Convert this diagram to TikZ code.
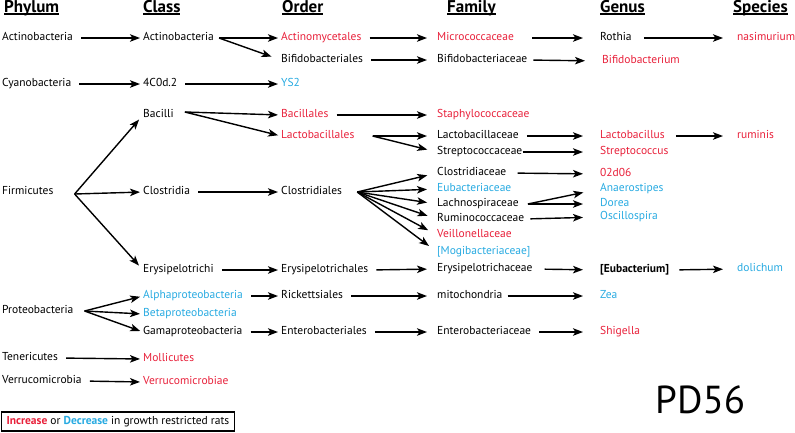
\documentclass[tikz,border=0pt]{standalone}
\usepackage{fontspec}
\setmainfont{PT Sans}
\usetikzlibrary{arrows.meta}
\definecolor{incr}{RGB}{232,32,58}
\definecolor{decr}{RGB}{39,170,225}
\newcommand\ulhead[1]{\setbox0\hbox{#1}\rlap{\rule[-2.6pt]{\wd0}{1.4pt}}\box0}

\begin{document}
\begin{tikzpicture}[x=1pt,y=-1pt,
    every node/.style={anchor=west,inner sep=0pt,text height=8pt,text depth=2.5pt,
      font=\fontsize{11.5}{13}\selectfont},
    head/.style={anchor=base west,text height=,text depth=,font=\fontsize{17}{19}\bfseries\selectfont},
    up/.style={text=incr},
    down/.style={text=decr},
    arr/.style={-{Stealth[length=10pt,width=7.5pt,inset=2.5pt]},line width=1.4pt,shorten <=8pt,shorten >=3pt}]
  \useasboundingbox (0,0) rectangle (795,432);

  \path
    (4,12) node[head] (h0){\ulhead{Phylum}}
    (143,12) node[head] (h1){\ulhead{Class}}
    (282,12) node[head] (h2){\ulhead{Order}}
    (447,12) node[head] (h3){\ulhead{Family}}
    (600,12) node[head] (h4){\ulhead{Genus}}
    (733,12) node[head] (h5){\ulhead{Species}};

  \path
    (2,38) node (p-actino){Actinobacteria}
    (2,84) node (p-cyano){Cyanobacteria}
    (2,192) node (p-firm){Firmicutes}
    (2,311) node (p-proteo){Proteobacteria}
    (2,358) node (p-teneri){Tenericutes}
    (2,381) node (p-verru){Verrucomicrobia};

  \path
    (143,38) node (c-actino){Actinobacteria}
    (143,84) node (c-4c0d){4C0d.2}
    (143,115) node (c-bacilli){Bacilli}
    (143,192) node (c-clostr){Clostridia}
    (143,270) node (c-erysi){Erysipelotrichi}
    (143,296) node[down] (c-alpha){Alphaproteobacteria}
    (143,314) node[down] (c-beta){Betaproteobacteria}
    (143,332) node (c-gama){Gamaproteobacteria}
    (143,359) node[up] (c-molli){Mollicutes}
    (143,382) node[up] (c-verru){Verrucomicrobiae};

  \path
    (281,38) node[up] (o-actino){Actinomycetales}
    (281,60) node (o-bifido){Bifidobacteriales}
    (281,84) node[down] (o-ys2){YS2}
    (281,115) node[up] (o-bacill){Bacillales}
    (281,136) node[up] (o-lacto){Lactobacillales}
    (281,192) node (o-clostr){Clostridiales}
    (281,270) node (o-erysi){Erysipelotrichales}
    (281,296) node (o-ricket){Rickettsiales}
    (281,332) node (o-entero){Enterobacteriales};

  \path
    (437,38) node[up] (f-micro){Micrococcaceae}
    (437,60) node (f-bifido){Bifidobacteriaceae}
    (437,115) node[up] (f-staph){Staphylococcaceae}
    (437,136) node (f-lacto){Lactobacillaceae}
    (437,152) node (f-strepto){Streptococcaceae}
    (437,173) node (f-clostr){Clostridiaceae}
    (437,189) node[down] (f-eubact){Eubacteriaceae}
    (437,204) node (f-lachno){Lachnospiraceae}
    (437,219) node (f-rumino){Ruminococcaceae}
    (437,235) node[up] (f-veillo){Veillonellaceae}
    (437,252) node[down] (f-mogi){[Mogibacteriaceae]}
    (437,269) node (f-erysi){Erysipelotrichaceae}
    (437,296) node (f-mito){mitochondria}
    (437,332) node (f-entero){Enterobacteriaceae};

  \path
    (600,38) node (g-rothia){Rothia}
    (602,61) node[up] (g-bifido){Bifidobacterium}
    (600,136) node[up] (g-lacto){Lactobacillus}
    (600,152) node[up] (g-strepto){Streptococcus}
    (600,174) node[up] (g-02d06){02d06}
    (600,189) node[down] (g-anaero){Anaerostipes}
    (600,204) node[down] (g-dorea){Dorea}
    (600,217) node[down] (g-oscillo){Oscillospira}
    (600,270) node (g-eubact){\textbf{[Eubacterium]}}
    (600,296) node[down] (g-zea){Zea}
    (600,332) node[up] (g-shigella){Shigella};

  \path
    (737,38) node[up] (s-nasim){nasimurium}
    (737,136) node[up] (s-rumin){ruminis}
    (737,269) node[down] (s-dolich){dolichum};

  \node[text height=28pt,text depth=0pt,font=\fontsize{39}{42}\selectfont] (pd) at (655,399) {PD56};
  \node[draw,line width=1.1pt,inner xsep=5pt,inner ysep=4.25pt] (key) at (1,421.5)
    {\textcolor{incr}{\textbf{Increase}} or \textcolor{decr}{\textbf{Decrease}} in growth restricted rats};

  \coordinate (firm-x) at ([xshift=21pt,yshift=-2pt]p-firm.east);
  \coordinate (proteo-x) at ([xshift=11pt]p-proteo.east);
  \coordinate (actino-x) at ([xshift=5pt]c-actino.east);
  \coordinate (bacilli-x) at ([xshift=11pt,yshift=3pt]c-bacilli.east);
  \coordinate (lacto-x) at ([xshift=18pt]o-lacto.east);
  \coordinate (clostr-x) at ([xshift=15pt]o-clostr.east);
  \coordinate (lachno-x) at ([xshift=9pt]f-lachno.east);

  \begin{scope}[arr]
    \draw (p-actino.east) to (c-actino.west);
    \draw (p-cyano.east) to (c-4c0d.west);
    \draw (p-teneri.east) to (c-molli.west);
    \draw (p-verru.east) to (c-verru.west);
    \draw[shorten <=0pt,shorten >=6pt] (firm-x) to (c-bacilli.west);
    \draw[shorten <=0pt] (firm-x) to (c-clostr.west);
    \draw[shorten <=0pt,shorten >=6pt] (firm-x) to (c-erysi.west);
    \draw[shorten <=0pt] (proteo-x) to (c-alpha.west);
    \draw[shorten <=0pt] (proteo-x) to (c-beta.west);
    \draw[shorten <=0pt] (proteo-x) to (c-gama.west);
  \end{scope}

  \begin{scope}[arr]
    \draw[shorten <=0pt] (actino-x) to (o-actino.west);
    \draw[shorten <=0pt,shorten >=10pt] (actino-x) to (o-bifido.west);
    \draw (c-4c0d.east) to (o-ys2.west);
    \draw[shorten <=0pt] (bacilli-x) to (o-bacill.west);
    \draw[shorten <=0pt] (bacilli-x) to (o-lacto.west);
    \draw (c-clostr.east) to (o-clostr.west);
    \draw (c-erysi.east) to (o-erysi.west);
    \draw (c-alpha.east) to (o-ricket.west);
    \draw (c-gama.east) to (o-entero.west);
  \end{scope}

  \begin{scope}[arr,shorten >=10pt]
    \draw (o-actino.east) to (f-micro.west);
    \draw (o-bifido.east) to (f-bifido.west);
    \draw (o-bacill.east) to (f-staph.west);
    \draw[shorten <=0pt] (lacto-x) to (f-lacto.west);
    \draw[shorten <=0pt] (lacto-x) to (f-strepto.west);
    \draw[shorten <=0pt] (clostr-x) to (f-clostr.west);
    \draw[shorten <=0pt] (clostr-x) to (f-eubact.west);
    \draw[shorten <=0pt] (clostr-x) to (f-lachno.west);
    \draw[shorten <=0pt] (clostr-x) to (f-rumino.west);
    \draw[shorten <=0pt] (clostr-x) to (f-veillo.west);
    \draw[shorten <=0pt] (clostr-x) to (f-mogi.west);
    \draw (o-erysi.east) to (f-erysi.west);
    \draw (o-ricket.east) to (f-mito.west);
    \draw (o-entero.east) to (f-entero.west);
  \end{scope}

  \begin{scope}[arr,shorten >=17pt]
    \draw[shorten <=18pt] (f-micro.east) to (g-rothia.west);
    \draw[shorten <=6pt] (f-bifido.east) to (g-bifido.west);
    \draw (f-lacto.east) to (g-lacto.west);
    \draw[shorten <=0pt] (f-strepto.east) to (g-strepto.west);
    \draw[shorten <=11pt] (f-clostr.east) to (g-02d06.west);
    \draw[shorten <=0pt] (lachno-x) to (g-anaero.west);
    \draw[shorten <=0pt] (lachno-x) to (g-dorea.west);
    \draw[shorten <=6pt] (f-rumino.east) to (g-oscillo.west);
    \draw[shorten <=12pt] (f-erysi.east) to (g-eubact.west);
    \draw[shorten <=5pt] (f-mito.east) to (g-zea.west);
    \draw (f-entero.east) to (g-shigella.west);
  \end{scope}

  \begin{scope}[arr,shorten >=14pt]
    \draw[shorten <=12pt] (g-rothia.east) to (s-nasim.west);
    \draw[shorten <=11pt] (g-lacto.east) to (s-rumin.west);
    \draw[shorten <=10pt] (g-eubact.east) to (s-dolich.west);
  \end{scope}
\end{tikzpicture}
\end{document}
